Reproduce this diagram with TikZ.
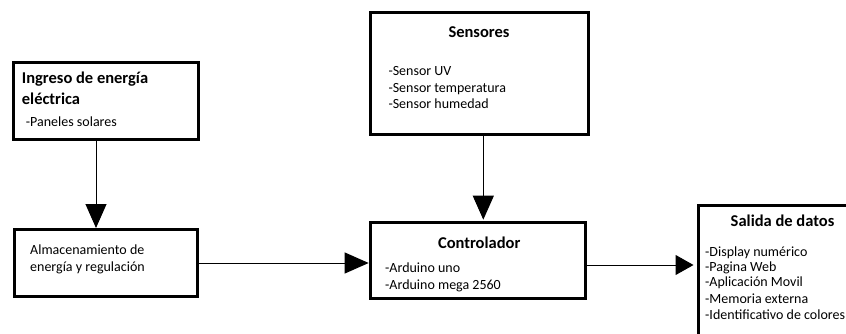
\documentclass[tikz,border=0pt]{standalone}
\usepackage{fontspec}
\setmainfont{Carlito}
\usetikzlibrary{arrows.meta}
\begin{document}
\begin{tikzpicture}[x=1pt,y=-1pt,
  box/.style={draw,line width=3pt,inner sep=0pt,outer sep=0pt},
  arr/.style={line width=1pt,-{Triangle[length=24pt,width=21pt]}},
  ttl/.style={font=\fontsize{16.5}{18}\selectfont\bfseries,inner sep=0pt,anchor=base},
  ttlw/.style={ttl,anchor=base west},
  itm/.style={font=\fontsize{14}{16}\selectfont,inner sep=0pt,anchor=base west}]
\useasboundingbox (0,0) rectangle (846,334);
\clip (0,0) rectangle (846,334);
% boxes
\node[box,minimum width=184.7pt,minimum height=77.3pt] (ing) at (105.7,101.3) {};
\node[box,minimum width=217.6pt,minimum height=122.3pt] (sen) at (479.5,73.8) {};
\node[box,minimum width=182.7pt,minimum height=67pt] (alm) at (106.3,263) {};
\node[box,minimum width=215.3pt,minimum height=75.6pt] (con) at (478.3,260.5) {};
\node[box,minimum width=251.5pt,minimum height=194.5pt] (sal) at (824.25,302.75) {};
% texts
\node[ttlw] (t1a) at (21.7,84) {Ingreso de energía};
\node[ttlw] (t1b) at (21.7,104.3) {eléctrica};
\node[itm] (i1) at (25.7,126.7) {-Paneles solares};
\node[ttl] (t2) at (479,37.3) {Sensores};
\node[itm] (i2a) at (388.3,75.7) {-Sensor UV};
\node[itm] (i2b) at (388.3,92.3) {-Sensor temperatura};
\node[itm] (i2c) at (388.3,109) {-Sensor humedad};
\node[itm] (i3a) at (30,254.3) {Almacenamiento de};
\node[itm] (i3b) at (30,271) {energía y regulación};
\node[ttl] (t4) at (479.2,248.3) {Controlador};
\node[itm] (i4a) at (385,272.7) {-Arduino uno};
\node[itm] (i4b) at (385,289) {-Arduino mega 2560};
\node[ttl] (t5) at (782.5,226.7) {Salida de datos};
\node[itm] (i5a) at (705,256.7) {-Display numérico};
\node[itm] (i5b) at (705,271.7) {-Pagina Web};
\node[itm] (i5c) at (705,286.7) {-Aplicación Movil};
\node[itm] (i5d) at (705,303.3) {-Memoria externa};
\node[itm] (i5e) at (705,319) {-Identificativo de colores};
% connectors
\coordinate (xa) at (96,0);
\coordinate (xb) at (483.3,0);
\coordinate (ya) at (0,263);
\coordinate (yb) at (0,265);
\draw[arr] (xa |- ing.south) -- ([yshift=1.5pt]xa |- alm.north);
\draw[arr] (alm.east |- ya) -- ([xshift=-2pt]con.west |- ya);
\draw[arr] (xb |- sen.south) -- ([yshift=3pt]xb |- con.north);
\draw[arr,-{Triangle[length=18pt,width=20pt]}] (con.east |- yb) -- ([xshift=-5pt]sal.west |- yb);
\end{tikzpicture}
\end{document}
